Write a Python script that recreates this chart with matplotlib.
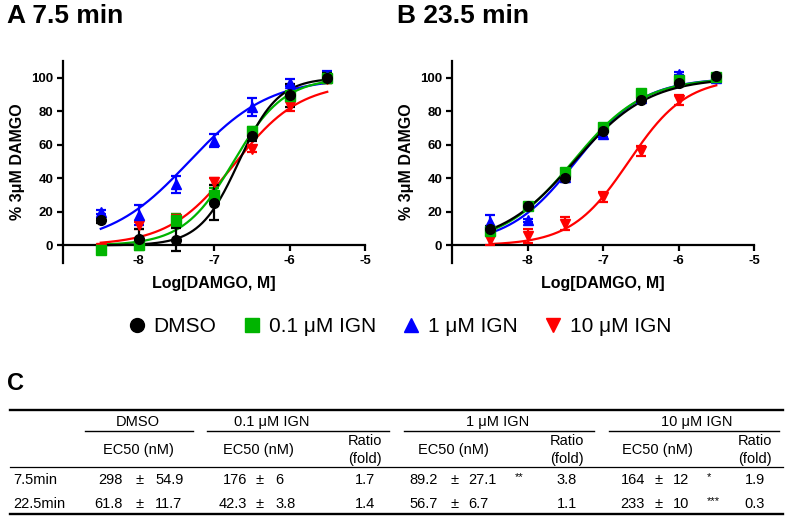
import numpy as np
import matplotlib
matplotlib.use('Agg')
import matplotlib.pyplot as plt
from matplotlib.lines import Line2D

plt.rcParams['font.family'] = ['Liberation Sans', 'DejaVu Sans']

# doses (log M)
log_dose = [-8.5, -8, -7.5, -7, -6.5, -6, -5.5]
series_labels = ['DMSO', '0.1 \u03bcM IGN', '1 \u03bcM IGN', '10 \u03bcM IGN']
series_colors = ['black', '#00B400', '#0000FF', '#FF0000']
series_markers = ['o', 's', '^', 'v']

# panel A, 7.5 min
a_dmso = [15, 4, 3.5, 25.5, 65, 89.5, 100]
a_dmso_err = [1.5, 6, 7, 10.5, 3, 7, 3]
a_ign01 = [-2.5, 0.5, 15, 30, 68, 89, 100]
a_ign01_err = [2.5, 3.5, 4, 4, 2.5, 3, 3]
a_ign1 = [20, 18, 36.5, 62.5, 82.5, 97, 101]
a_ign1_err = [1, 6, 5, 4, 5.5, 2, 3]
a_ign10 = [-1.5, 12, 16, 38, 57.5, 83, 99]
a_ign10_err = [1, 2, 3, 2, 2, 3, 2]
# fitted curves: logEC50, hill slope, top
a_fit_logec50 = [-6.67, -6.74, -7.33, -6.73]
a_fit_hill = [1.67, 1.3, 0.82, 1.0]
a_fit_top = [100, 100, 100, 97]

# panel B, 23.5 min
b_dmso = [10, 23.5, 40, 68.5, 87, 97, 101]
b_dmso_err = [1.5, 1.5, 2, 1.5, 1.5, 1, 1]
b_ign01 = [8.5, 23.5, 44, 70.5, 91, 98.5, 100.5]
b_ign01_err = [1.5, 1.5, 1.5, 1.5, 1.5, 1.5, 1.5]
b_ign1 = [14, 15, 41, 66.5, 88, 102.5, 100]
b_ign1_err = [4, 1, 2, 2, 1.5, 1, 1]
b_ign10 = [3, 5.5, 13, 29, 56.5, 87, 99]
b_ign10_err = [3, 4, 4, 3, 3, 3, 1]
b_fit_logec50 = [-7.38, -7.40, -7.36, -6.66]
b_fit_hill = [0.88, 0.93, 0.97, 1.14]
b_fit_top = [100, 100, 100, 100]

# table C
table_groups = ['DMSO', '0.1 \u03bcM IGN', '1 \u03bcM IGN', '10 \u03bcM IGN']
row_labels = ['7.5min', '22.5min']
ec50_mean = [['298', '176', '89.2', '164'], ['61.8', '42.3', '56.7', '233']]
ec50_sem = [['54.9', '6', '27.1', '12'], ['11.7', '3.8', '6.7', '10']]
ratio_fold = [['', '1.7', '3.8', '1.9'], ['', '1.4', '1.1', '0.3']]
sig_stars = [['', '', '**', '*'], ['', '', '', '***']]

W, H = 787, 517
fig = plt.figure(figsize=(W / 100, H / 100), dpi=100)


def draw_panel(ax, means, errs, logec50, hill, top):
    xfit = np.linspace(-8.5, -5.5, 300)
    # red first so black ends on top
    for i in [3, 2, 1, 0]:
        yfit = top[i] / (1 + 10 ** ((logec50[i] - xfit) * hill[i]))
        ax.plot(xfit, yfit, color=series_colors[i], lw=1.6, zorder=2)
        ax.errorbar(log_dose, means[i], yerr=errs[i], fmt=series_markers[i],
                    color=series_colors[i], ms=7, elinewidth=1.6,
                    capsize=3.5, capthick=1.6, zorder=3)
    ax.set_xlim(-9, -5)
    ax.set_ylim(-10.5, 110)
    ax.spines['top'].set_visible(False)
    ax.spines['right'].set_visible(False)
    ax.spines['bottom'].set_position(('data', 0))
    ax.spines['bottom'].set_linewidth(1.6)
    ax.spines['left'].set_linewidth(1.6)
    ax.set_xticks([-8, -7, -6, -5])
    ax.set_xticklabels(['-8', '-7', '-6', '-5'])
    ax.set_yticks([0, 20, 40, 60, 80, 100])
    ax.tick_params(width=1.6, length=4, labelsize=9.5, pad=3)
    for lab in ax.get_xticklabels() + ax.get_yticklabels():
        lab.set_fontweight('bold')
    ax.set_xlabel('Log[DAMGO, M]', fontsize=11.5, fontweight='bold')
    ax.set_ylabel('% 3\u03bcM DAMGO', fontsize=11.5, fontweight='bold')
    ax.xaxis.set_label_coords(0.5, -0.065)
    ax.yaxis.set_label_coords(-0.125, 0.5)


axA = fig.add_axes([63 / W, 1 - 263 / H, 302 / W, 202 / H])
axB = fig.add_axes([452 / W, 1 - 263 / H, 302 / W, 202 / H])
draw_panel(axA, [a_dmso, a_ign01, a_ign1, a_ign10],
           [a_dmso_err, a_ign01_err, a_ign1_err, a_ign10_err],
           a_fit_logec50, a_fit_hill, a_fit_top)
draw_panel(axB, [b_dmso, b_ign01, b_ign1, b_ign10],
           [b_dmso_err, b_ign01_err, b_ign1_err, b_ign10_err],
           b_fit_logec50, b_fit_hill, b_fit_top)

fig.text(7 / W, 1 - 16 / H, 'A 7.5 min', fontsize=19, fontweight='bold', va='center')
fig.text(397 / W, 1 - 16 / H, 'B 23.5 min', fontsize=19, fontweight='bold', va='center')

handles = [Line2D([], [], marker=m, color=c, linestyle='none', markersize=10)
           for m, c in zip(series_markers, series_colors)]
fig.legend(handles, series_labels, loc='center', bbox_to_anchor=(399 / W, 1 - 327 / H),
           ncol=4, frameon=False, fontsize=15, handletextpad=0.3,
           columnspacing=1.2, handlelength=1.0)

# table drawn in pixel coordinates
axT = fig.add_axes([0, 0, 1, 1], facecolor='none')
axT.set_xlim(0, W)
axT.set_ylim(H, 0)
axT.axis('off')

axT.text(7, 384, 'C', fontsize=17, fontweight='bold', va='center')
axT.plot([10, 783], [410, 410], color='black', lw=1.7)
axT.plot([10, 783], [467, 467], color='black', lw=0.9)
axT.plot([10, 783], [514, 514], color='black', lw=1.7)

group_center = [138, 272, 498, 697]
group_line = [(85, 193), (207, 389), (404, 594), (609, 779)]
ec50_center = [138, 258, 453, 657]
mean_right = [123, 247, 438, 645]
pm_center = [140, 260, 455, 659]
sem_left = [155, 275, 468, 673]
star_x = [0, 0, 515, 707]
ratio_center = [0, 365, 567, 755]
row_y = [480, 504]
fs = 10.5

for g in range(4):
    axT.text(group_center[g], 422, table_groups[g], fontsize=fs, ha='center', va='center')
    axT.plot(group_line[g], [431, 431], color='black', lw=1.0)
    axT.text(ec50_center[g], 450, 'EC50 (nM)', fontsize=fs, ha='center', va='center')
    if g > 0:
        axT.text(ratio_center[g], 441, 'Ratio', fontsize=fs, ha='center', va='center')
        axT.text(ratio_center[g], 459, '(fold)', fontsize=fs, ha='center', va='center')
    for r in range(2):
        y = row_y[r]
        axT.text(mean_right[g], y, ec50_mean[r][g], fontsize=fs, ha='right', va='center')
        axT.text(pm_center[g], y, '\u00b1', fontsize=fs, ha='center', va='center')
        axT.text(sem_left[g], y, ec50_sem[r][g], fontsize=fs, ha='left', va='center')
        if sig_stars[r][g]:
            axT.text(star_x[g], y - 3, sig_stars[r][g], fontsize=8, ha='left', va='center')
        if ratio_fold[r][g]:
            axT.text(ratio_center[g], y, ratio_fold[r][g], fontsize=fs, ha='center', va='center')

for r in range(2):
    axT.text(13, row_y[r], row_labels[r], fontsize=fs, ha='left', va='center')

fig.savefig('out.png', dpi=100)
